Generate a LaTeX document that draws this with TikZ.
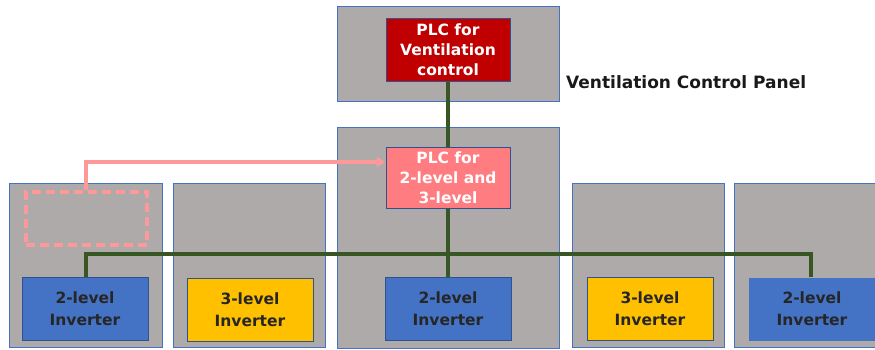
\documentclass[tikz,border=0pt]{standalone}
\usepackage{fontspec}
\setmainfont{DejaVu Sans}
\usetikzlibrary{arrows.meta}
\definecolor{panelgray}{HTML}{AEAAAA}
\definecolor{edgeblue}{HTML}{4472C4}
\definecolor{darkedge}{HTML}{2F528F}
\definecolor{plcred}{HTML}{C00000}
\definecolor{plcpink}{HTML}{FF7C80}
\definecolor{linkpink}{HTML}{FF9999}
\definecolor{invblue}{HTML}{4472C4}
\definecolor{invyellow}{HTML}{FFC000}
\definecolor{busgreen}{HTML}{375623}
\tikzset{
  panel/.style={draw=edgeblue, line width=1pt, fill=panelgray, inner sep=0pt},
  box/.style={draw=darkedge, line width=1pt, minimum width=126pt, minimum height=63pt, inner sep=0pt,
    align=center, font=\bfseries\fontsize{15.5}{20}\selectfont},
  plcbox/.style={box, text=white, minimum width=124pt},
  invbox/.style={box, text=black!85, font=\bfseries\fontsize{15.5}{22}\selectfont},
  bus/.style={draw=busgreen, line width=3.6pt},
  link/.style={draw=linkpink, line width=3.4pt},
}
\begin{document}
\begin{tikzpicture}[x=1pt,y=-1pt]
\useasboundingbox (0,0) rectangle (875,349);
% panels
\node[panel, minimum width=222pt, minimum height=95pt] (ptop) at (448,53.5) {};
\node[panel, minimum width=222pt, minimum height=221pt] (pmid) at (448,237.5) {};
\node[panel, minimum width=153pt, minimum height=164pt] (p1) at (85.5,265) {};
\node[panel, minimum width=152pt, minimum height=164pt] (p2) at (249,265) {};
\node[panel, minimum width=152pt, minimum height=164pt] (p4) at (648,265) {};
\node[panel, minimum width=152pt, minimum height=164pt] (p5) at (810,265) {};
% label
\node[font=\bfseries\fontsize{17}{20}\selectfont, text=black!90, anchor=west, inner sep=0pt] (lbl) at (566,82) {Ventilation Control Panel};
% PLCs
\node[plcbox, fill=plcred, minimum height=63pt] (plc1) at (448,49.5) {PLC for\\Ventilation\\control};
\node[plcbox, fill=plcpink, minimum height=61pt] (plc2) at (448,177.5) {PLC for\\2-level and\\3-level};
% dashed placeholder
\node[draw=linkpink, line width=3.2pt, dash pattern=on 9pt off 5pt, minimum width=121pt, minimum height=53pt, inner sep=0pt] (dash) at (86.5,218.5) {};
% inverters
\node[invbox, fill=invblue] (inv1) at (85,309) {2-level\\Inverter};
\node[invbox, fill=invyellow] (inv2) at (250,310) {3-level\\Inverter};
\node[invbox, fill=invblue] (inv3) at (448,309) {2-level\\Inverter};
\node[invbox, fill=invyellow] (inv4) at (650,309) {3-level\\Inverter};
\node[invbox, fill=invblue, draw=none] (inv5) at (812,309) {2-level\\Inverter};
% connectors
\coordinate (bend) at (86,162);
\draw[link, -{Triangle[length=9pt,width=10pt]}] (dash.north -| bend) -- (bend) -- (plc2.west |- bend);
\draw[bus] (plc1.south) -- (plc2.north);
\coordinate (busl) at (86,254);
\coordinate (busr) at (811,254);
\draw[bus] (inv1.north -| busl) -- (busl) -- (busr) -- (inv5.north -| busr);
\draw[bus] (plc2.south) -- (inv3.north);
\end{tikzpicture}
\end{document}
